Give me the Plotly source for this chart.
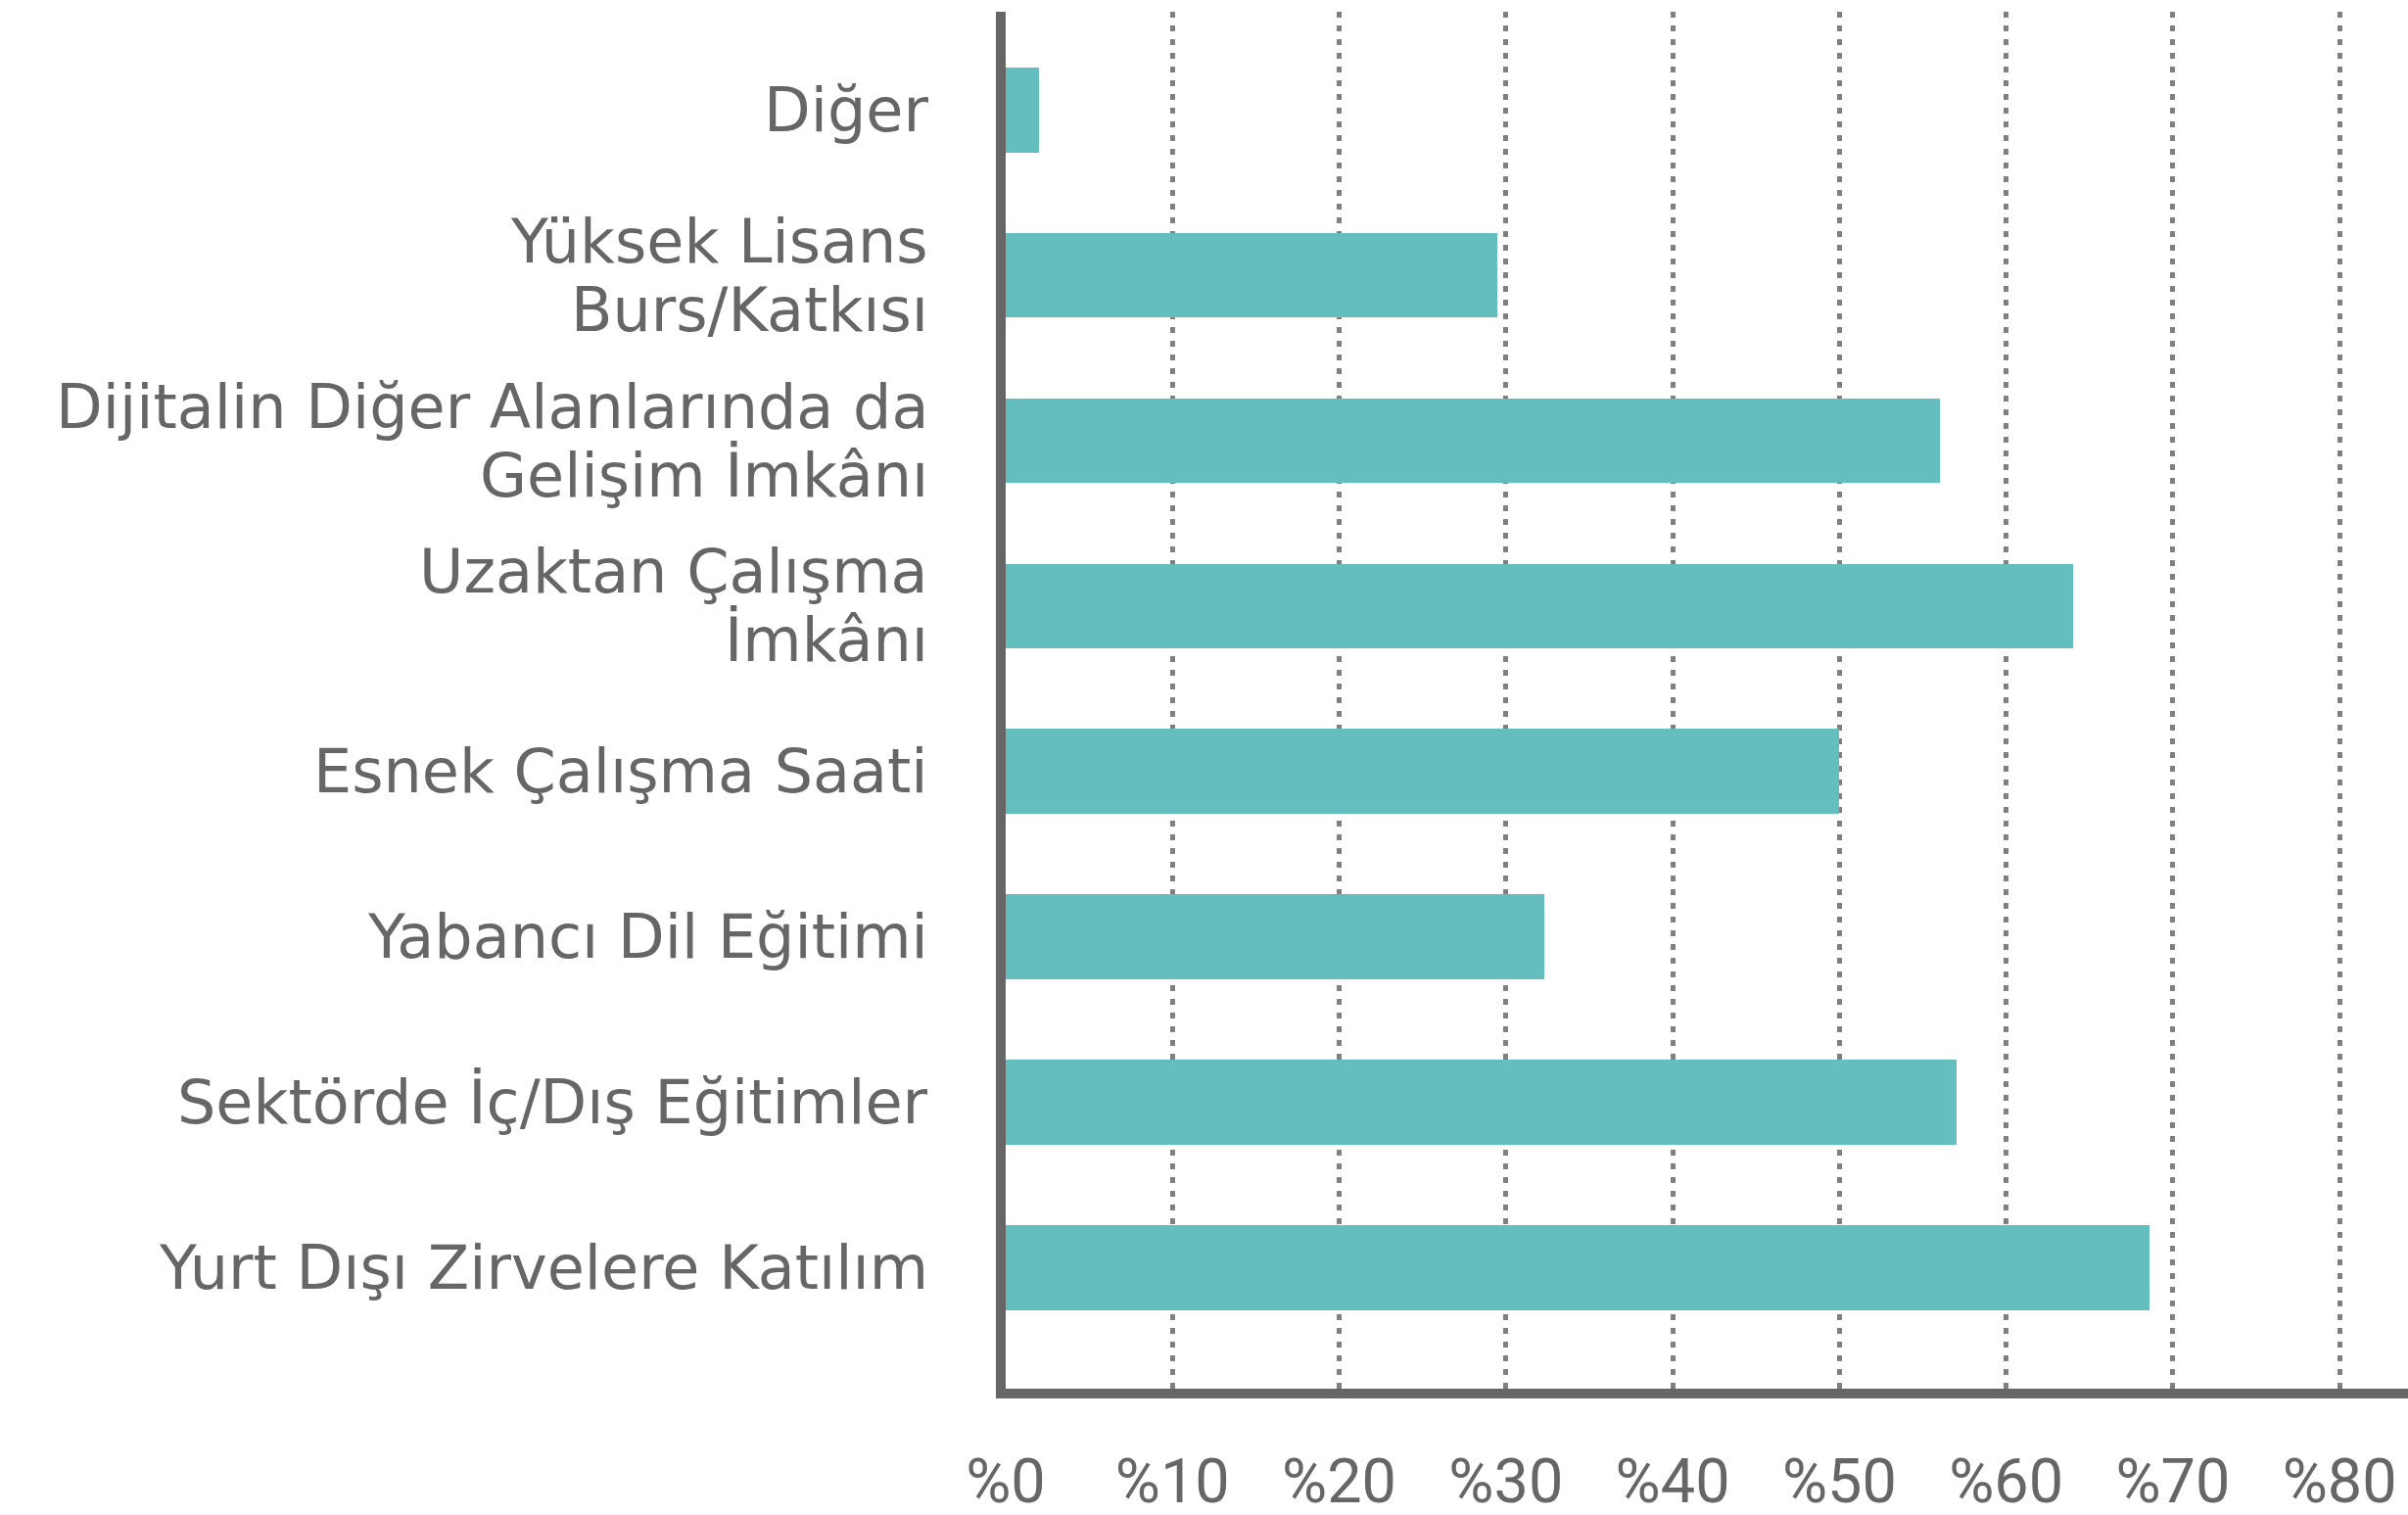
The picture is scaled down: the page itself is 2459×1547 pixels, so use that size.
import plotly.graph_objects as go

# Data (bottom to top)
categories = [
    "Yurt Dışı Zirvelere Katılım",
    "Sektörde İç/Dış Eğitimler",
    "Yabancı Dil Eğitimi",
    "Esnek Çalışma Saati",
    "Uzaktan Çalışma<br>İmkânı",
    "Dijitalin Diğer Alanlarında da<br>Gelişim İmkânı",
    "Yüksek Lisans<br>Burs/Katkısı",
    "Diğer",
]
values = [68.6, 57, 32.3, 50, 64, 56, 29.5, 2]
tick_values = [0, 10, 20, 30, 40, 50, 60, 70, 80]
tick_labels = ["%0", "%10", "%20", "%30", "%40", "%50", "%60", "%70", "%80"]

BAR = "#64BEBE"
TEXT = "#666666"
FONT = "DejaVu Sans"
TICK_FONT = "Roboto"
FS = 62
TICK_FS = 63
LINE_H = 70

fig = go.Figure(
    go.Bar(
        y=categories,
        x=values,
        orientation="h",
        marker=dict(color=BAR, line=dict(width=0)),
        width=0.513,
        hoverinfo="skip",
    )
)

annotations = []
for cat in categories:
    lines = cat.split("<br>")
    n = len(lines)
    for i, ln in enumerate(lines):
        annotations.append(
            dict(
                xref="paper", x=0, yref="y", y=cat,
                text=ln, showarrow=False,
                xanchor="right", yanchor="middle",
                xshift=-77, yshift=((n - 1) / 2 - i) * LINE_H,
                font=dict(family=FONT, size=FS, color=TEXT),
            )
        )

fig.update_layout(
    width=2459,
    height=1547,
    margin=dict(l=1027, r=0, t=12, b=129, autoexpand=False),
    paper_bgcolor="white",
    plot_bgcolor="white",
    showlegend=False,
    bargap=0,
    annotations=annotations,
    font=dict(family=FONT, color=TEXT),
)

fig.update_xaxes(
    range=[0, 84.1],
    tickvals=tick_values,
    ticktext=tick_labels,
    tickfont=dict(family=TICK_FONT, size=TICK_FS, color=TEXT),
    ticks="",
    ticklabelstandoff=30,
    automargin=False,
    showgrid=True,
    gridcolor="#808080",
    gridwidth=5,
    griddash="6px,8px",
    zeroline=False,
    showline=True,
    linecolor=TEXT,
    linewidth=10,
    fixedrange=True,
)

fig.update_yaxes(
    categoryorder="array",
    categoryarray=categories,
    range=[-0.732, 7.594],
    showticklabels=False,
    automargin=False,
    ticks="",
    showgrid=False,
    zeroline=False,
    showline=True,
    linecolor=TEXT,
    linewidth=10,
    fixedrange=True,
)

fig.write_html(
    "out.html",
    config={"displayModeBar": False},
    post_script="document.body.style.margin='0';document.body.style.overflow='hidden';",
)
